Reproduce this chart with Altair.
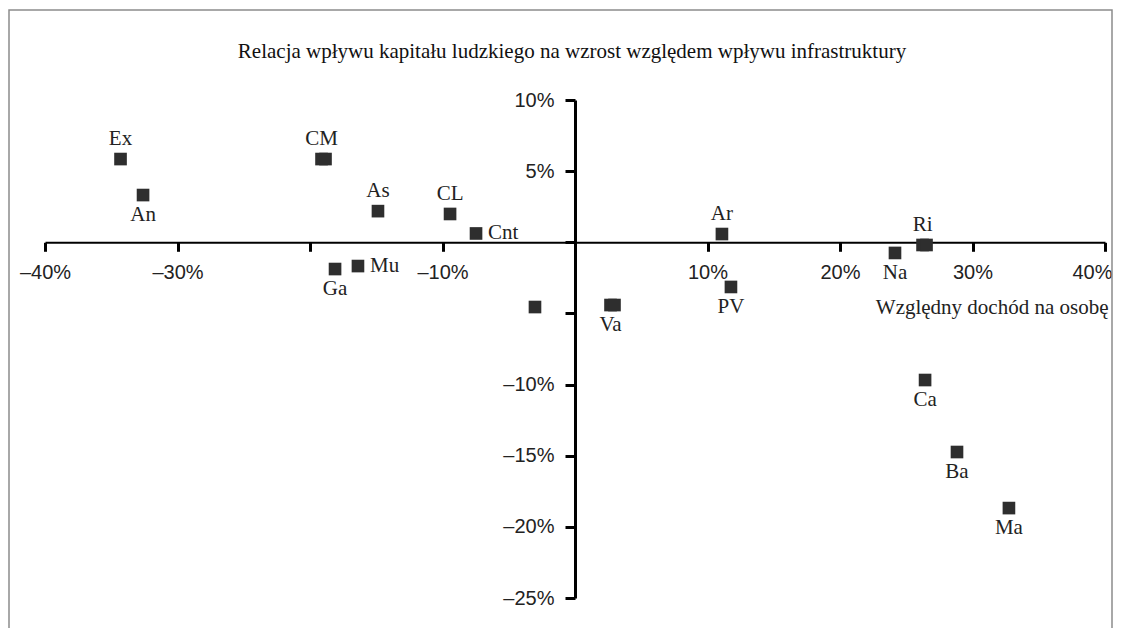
import altair as alt
import pandas as pd

# ---- data ----
regions = ["Ex", "An", "CM", "As", "CL", "Cnt", "Ga", "Mu", "Va", "Ar", "PV", "Na", "Ri", "Ca", "Ba", "Ma"]
income = [-34.3, -32.6, -19.13, -14.87, -9.43, -7.47, -18.11, -16.38, 2.68, 11.09, 11.77, 24.15, 26.23, 26.42, 28.83, 32.75]
effect = [5.85, 3.32, 5.85, 2.19, 1.99, 0.62, -1.88, -1.67, -4.41, 0.58, -3.14, -0.75, -0.19, -9.68, -14.74, -18.68]

# unlabeled / overlapping points
extra_income = [-18.83, -3.02, 2.98, 26.53]
extra_effect = [5.85, -4.55, -4.41, -0.19]

x_ticks = [-40, -30, -20, -10, 0, 10, 20, 30, 40]
y_ticks = [10, 5, 0, -5, -10, -15, -20, -25]

title_text = "Relacja wpływu kapitału ludzkiego na wzrost względem wpływu infrastruktury"
x_title = "Względny dochód na osobę"

# label placement (style)
above = ["Ex", "CM", "As", "CL", "Ar", "Ri"]
right = ["Cnt", "Mu"]

df = pd.DataFrame({"region": regions, "x": income, "y": effect})
df["side"] = ["above" if r in above else ("right" if r in right else "below") for r in regions]
df_extra = pd.DataFrame({"x": extra_income, "y": extra_effect})

W, H = 1060, 498
xs = alt.Scale(domain=[-40, 40], nice=False, zero=False)
ys = alt.Scale(domain=[-25, 10], nice=False, zero=False)
y0_px = H * 10 / 35.0

ax_x = alt.Axis(
    values=x_ticks, orient="bottom", offset=y0_px - H, grid=False,
    domainColor="#000", domainWidth=2, tickColor="#000", tickWidth=3, tickSize=9,
    labelExpr="(datum.value == 0 || datum.value == -20) ? '' : (datum.value < 0 ? '\u2013' + abs(datum.value) : datum.value) + '%'",
    labelFont="Liberation Sans", labelFontSize=20, labelColor="#222", labelPadding=11,
    labelAlign=alt.condition("datum.value == 40", alt.value("right"), alt.value("center")),
    labelOffset=alt.condition("datum.value == 40", alt.value(7), alt.value(0)),
    labelFlush=False, labelOverlap=False,
    title=x_title, titleFont="Liberation Serif", titleFontSize=21, titleFontWeight="normal",
    titleColor="#222", titleX=W + 3, titleY=71, titleAlign="right", titleBaseline="alphabetic",
)
ax_y = alt.Axis(
    values=y_ticks, orient="left", offset=-(W / 2.0), grid=False,
    domainColor="#000", domainWidth=3, tickColor="#000", tickWidth=3, tickSize=10,
    labelExpr="(datum.value == 0 || datum.value == -5) ? '' : (datum.value < 0 ? '\u2013' + abs(datum.value) : datum.value) + '%'",
    labelFont="Liberation Sans", labelFontSize=20, labelColor="#222", labelPadding=11,
    labelFlush=False, labelOverlap=False, title=None,
)

base = alt.Chart(df)

pts = base.mark_square(size=160, color="#2e2e2e", opacity=1).encode(
    x=alt.X("x:Q", scale=xs, axis=ax_x),
    y=alt.Y("y:Q", scale=ys, axis=ax_y),
)
pts_extra = alt.Chart(df_extra).mark_square(size=160, color="#2e2e2e", opacity=1).encode(
    x=alt.X("x:Q", scale=xs), y=alt.Y("y:Q", scale=ys)
)

tstyle = dict(font="Liberation Serif", fontSize=21, color="#222")
lab_above = base.transform_filter("datum.side == 'above'").mark_text(
    dy=-20, baseline="middle", align="center", **tstyle
).encode(x="x:Q", y="y:Q", text="region:N")
lab_below = base.transform_filter("datum.side == 'below'").mark_text(
    dy=20, baseline="middle", align="center", **tstyle
).encode(x="x:Q", y="y:Q", text="region:N")
lab_right = base.transform_filter("datum.side == 'right'").mark_text(
    dx=12, baseline="middle", align="left", **tstyle
).encode(x="x:Q", y="y:Q", text="region:N")

title = alt.Chart(alt.Data(values=[{"t": title_text}])).mark_text(
    font="Liberation Serif", fontSize=21, color="#111", align="center", baseline="middle"
).encode(x=alt.value(W / 2.0 - 3), y=alt.value(-48), text="t:N")

frame = alt.Chart(alt.Data(values=[{}])).mark_rect(
    fillOpacity=0, stroke="#8c8c8c", strokeWidth=1.5
).encode(x=alt.value(-36), x2=alt.value(1067), y=alt.value(-90), y2=alt.value(560))

chart = alt.layer(frame, title, pts, pts_extra, lab_above, lab_below, lab_right).properties(
    width=W, height=H,
    autosize=alt.AutoSizeParams(type="none"),
    padding={"left": 37, "top": 92, "right": 9, "bottom": 30},
).configure_view(stroke=None)

chart.save("out.html", embed_options={"renderer": "svg", "actions": False})
